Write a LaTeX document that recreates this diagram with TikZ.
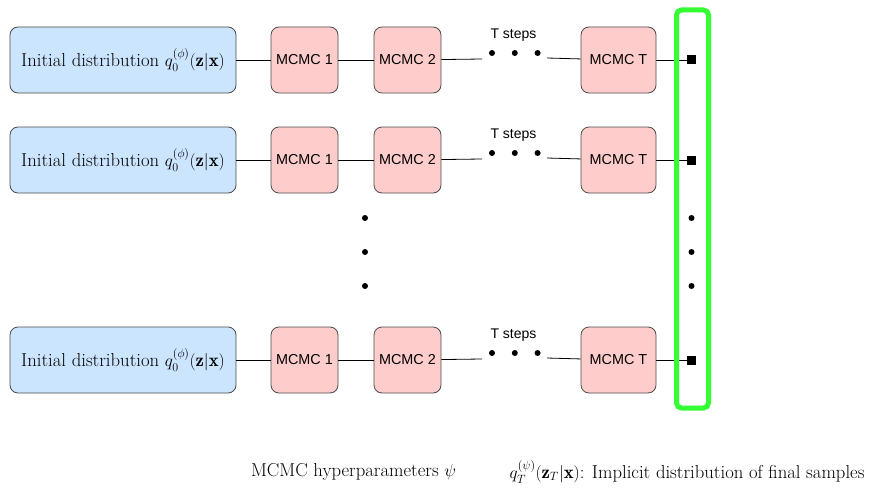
\documentclass[tikz,border=0pt]{standalone}
\usepackage{amsmath, amssymb}
\usepackage{fontspec}
\newfontfamily\helv{Liberation Sans}
\usepackage{tikz}
\usetikzlibrary{positioning}
\definecolor{initblue}{HTML}{CCE5FF}
\definecolor{mcmcred}{HTML}{FFCCCC}
\definecolor{framegreen}{HTML}{33FF33}
\tikzstyle{init}=[rectangle, rounded corners=8pt, draw=black!70, fill=initblue, minimum width=226pt, minimum height=66pt, font=\fontsize{18.7}{22}\selectfont]
\tikzstyle{mcmc}=[rectangle, rounded corners=8pt, draw=black!70, fill=mcmcred, minimum width=67pt, minimum height=66pt, font=\helv\fontsize{14.4}{17}\selectfont]
\tikzstyle{dot}=[circle, fill=black, inner sep=0pt, minimum size=6pt]
\tikzstyle{sample}=[rectangle, fill=black, inner sep=0pt, minimum size=9pt]

\begin{document}
\begin{tikzpicture}[x=1pt, y=-1pt, line width=0.8pt]
  \useasboundingbox (0,0) rectangle (872,487);
  \foreach \r/\y in {a/60, b/160, c/360} {
    \node[init] (init\r) at (123,\y) {Initial distribution $q_0^{(\phi)}(\mathbf{z}|\mathbf{x})$};
    \node[mcmc] (one\r) at (304.5,\y) {MCMC 1}
          edge (init\r);
    \node[mcmc] (two\r) at (407.5,\y) {MCMC 2}
          edge (one\r);
    \node[mcmc, minimum width=75pt] (last\r) at (618.5,\y) {MCMC T};
    \coordinate (gapl\r) at (482,\y-1);
    \coordinate (gapr\r) at (547,\y-2);
    \node[dot] (da\r) at (492,\y-7) {};
    \node[dot] (db\r) [right=16pt of da\r] {};
    \node[dot] (dc\r) [right=16pt of db\r] {};
    \node[font=\helv\fontsize{14}{17}\selectfont] (steps\r) at (513.5,\y-25) {T steps};
    \node[sample] (out\r) at (691.5,\y) {};
    \draw (two\r) -- (gapl\r);
    \draw (gapr\r) -- (last\r);
    \draw (last\r) -- (out\r);
  }
  % vertical dots
  \foreach \i/\y in {1/218, 2/252, 3/286} {
    \node[dot] (vm\i) at (365,\y) {};
    \node[dot] (vr\i) at (691.5,\y) {};
  }
  % final samples frame
  \draw[framegreen, line width=5pt, rounded corners=5pt] (676.5,10) rectangle (708.5,408);
  \node[font=\fontsize{18.7}{22}\selectfont] (hyper) at (353.5,472) {MCMC hyperparameters $\psi$};
  \node[font=\fontsize{18.7}{22}\selectfont, anchor=west] (implicit) at (506,472) {$q_T^{(\psi)}(\mathbf{z}_T|\mathbf{x})$: Implicit distribution of final samples};
\end{tikzpicture}
\end{document}
